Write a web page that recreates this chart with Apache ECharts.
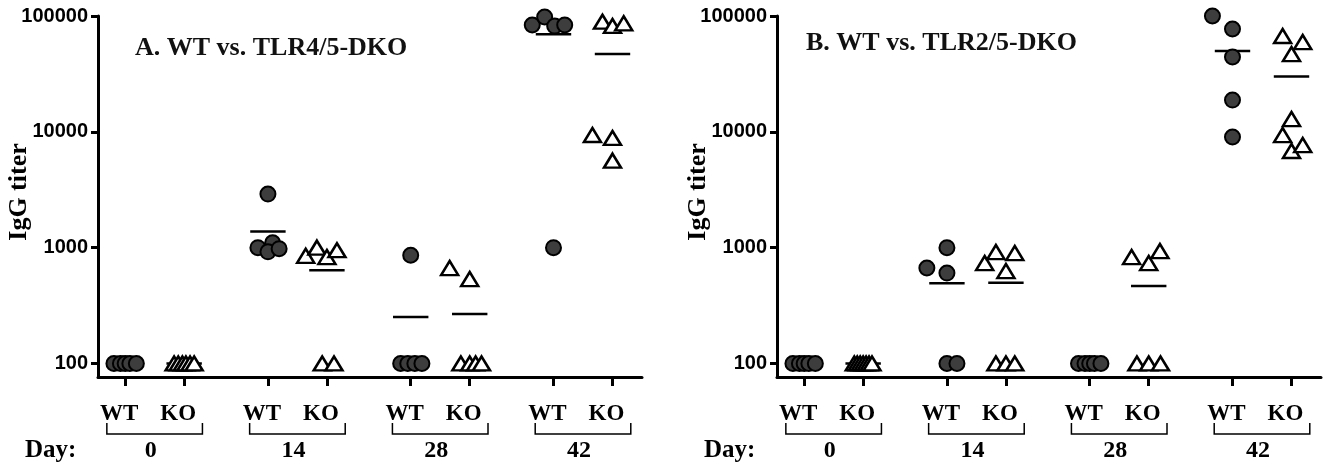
<!DOCTYPE html>
<html><head><meta charset="utf-8">
<script src="https://cdn.jsdelivr.net/npm/echarts@6/dist/echarts.min.js"></script>
<style>html,body{margin:0;padding:0;background:#fff}#c{width:1329px;height:468px}</style>
</head><body><div id="c"></div>
<script>
// ---------- data ----------
const days = ['0', '14', '28', '42'];
const groups = ['WT', 'KO'];
const yTicks = [100, 1000, 10000, 100000];
const panelTitles = ['A. WT vs. TLR4/5-DKO', 'B. WT vs. TLR2/5-DKO'];
const yName = 'IgG titer';
const dayName = 'Day:';

// Panel A (IgG titer per animal)
const aWT0  = [100, 100, 100, 100, 100];
const aKO0  = [100, 100, 100, 100, 100, 100];
const aWT14 = [2900, 1000, 1100, 920, 980];
const aKO14 = [850, 1000, 830, 950, 100, 100];
const aWT28 = [860, 100, 100, 100, 100];
const aKO28 = [667, 536, 100, 100, 100, 100];
const aWT42 = [83600, 98000, 81900, 83600, 1000];
const aKO42 = [89300, 82000, 86500, 9390, 8850, 5640];
// Panel B
const bWT0  = [100, 100, 100, 100, 100];
const bKO0  = [100, 100, 100, 100, 100, 100, 100];
const bWT14 = [667, 1000, 603, 100, 100];
const bKO14 = [736, 917, 628, 898, 100, 100, 100];
const bWT28 = [100, 100, 100, 100, 100];
const bKO28 = [830, 736, 935, 100, 100, 100];
const bWT42 = [100000, 77200, 44300, 18800, 9020];
const bKO42 = [67200, 59600, 46900, 12900, 9380, 6830, 7690];

// ---------- layout (horizontal scatter offsets, in slot units) ----------
const jA = {
  WT0: [-0.19, -0.08, 0, 0.08, 0.19], KO0: [-0.17, -0.1, -0.03, 0.03, 0.1, 0.17],
  WT14: [0, -0.17, 0.08, 0, 0.19], KO14: [-0.36, -0.17, 0, 0.17, -0.08, 0.12],
  WT28: [0, -0.17, -0.05, 0.07, 0.19], KO28: [-0.34, 0, -0.15, 0, 0.1, 0.2],
  WT42: [-0.36, -0.15, 0.02, 0.19, 0], KO42: [-0.17, 0, 0.19, -0.34, 0, 0]
};
const jB = {
  WT0: [-0.19, -0.08, 0, 0.08, 0.19], KO0: [-0.15, -0.1, -0.05, 0, 0.05, 0.1, 0.15],
  WT14: [-0.34, 0, 0, 0, 0.17], KO14: [-0.36, -0.17, 0, 0.15, -0.17, 0, 0.15],
  WT28: [-0.19, -0.08, 0, 0.08, 0.19], KO28: [-0.29, 0, 0.19, -0.2, 0, 0.2],
  WT42: [-0.34, 0, 0, 0, 0], KO42: [-0.15, 0.19, 0, 0, -0.15, 0, 0.19]
};
const panels = [
  {WT: [aWT0, aWT14, aWT28, aWT42], KO: [aKO0, aKO14, aKO28, aKO42], j: jA},
  {WT: [bWT0, bWT14, bWT28, bWT42], KO: [bKO0, bKO14, bKO28, bKO42], j: jB}
];

const STEP = 2.42, X_MIN = -0.46, X_MAX = 8.76, Y_MIN = 76.43, Y_MAX = 100000;
const pos = (g, s) => g * STEP + s;
const tickPos = []; days.forEach((d, g) => { tickPos.push(pos(g, 0), pos(g, 1)); });
const dayPos = days.map((d, g) => pos(g, 0.5));
const gridLeft = [98, 777];
const serif = '"Liberation Serif", "Times New Roman", serif';
const sans = '"Liberation Sans", Arial, sans-serif';
const idx = (arr, v) => arr.findIndex(t => Math.abs(t - v) < 1e-6);
const mean = a => a.reduce((s, v) => s + v, 0) / a.length;

const grid = [], xAxis = [], yAxis = [], series = [], title = [], graphic = [];
panels.forEach((P, p) => {
  grid.push({left: gridLeft[p], top: 16, width: 544, height: 361});
  xAxis.push({
    gridIndex: p, type: 'value', position: 'bottom', min: X_MIN, max: X_MAX,
    axisLine: {show: true, onZero: false, lineStyle: {color: '#000', width: 3}},
    axisTick: {show: true, customValues: tickPos, length: 9, lineStyle: {color: '#000', width: 3}},
    axisLabel: {customValues: tickPos, formatter: v => groups[idx(tickPos, v) % 2], margin: 26,
      fontFamily: serif, fontWeight: 'bold', fontSize: 23, color: '#000', padding: [0, 12, 0, 0]},
    splitLine: {show: false}
  });
  xAxis.push({
    gridIndex: p, type: 'value', position: 'bottom', min: X_MIN, max: X_MAX,
    axisLine: {show: false, onZero: false}, axisTick: {show: false}, splitLine: {show: false},
    axisLabel: {customValues: dayPos, formatter: v => days[idx(dayPos, v)], margin: 62,
      fontFamily: serif, fontWeight: 'bold', fontSize: 24, color: '#000', padding: [0, 8, 0, 0]}
  });
  yAxis.push({
    gridIndex: p, type: 'log', logBase: 10, min: Y_MIN, max: Y_MAX,
    axisLine: {show: true, onZero: false, lineStyle: {color: '#000', width: 3}},
    axisTick: {show: true, customValues: yTicks, length: 7, lineStyle: {color: '#000', width: 3}},
    axisLabel: {customValues: yTicks, formatter: v => String(Math.round(v)), margin: 10,
      fontFamily: sans, fontWeight: 'bold', fontSize: 20, color: '#000'},
    splitLine: {show: false}, minorTick: {show: false}, minorSplitLine: {show: false}
  });
  // mean lines
  const means = [];
  days.forEach((d, g) => {
    means.push([pos(g, 0), mean(P.WT[g])]);
    means.push([pos(g, 1), mean(P.KO[g])]);
  });
  series.push({
    type: 'custom', xAxisIndex: p * 2, yAxisIndex: p, z: 1, clip: false, silent: true,
    data: means,
    renderItem(params, api) {
      const x = api.value(0), m = api.value(1);
      const p1 = api.coord([x - 0.3, m]), p2 = api.coord([x + 0.3, m]);
      return {type: 'line', shape: {x1: p1[0], y1: p1[1], x2: p2[0], y2: p2[1]},
        style: {stroke: '#000', lineWidth: 2.5}};
    }
  });
  // brackets under group labels
  series.push({
    type: 'custom', xAxisIndex: p * 2, yAxisIndex: p, z: 1, clip: false, silent: true,
    data: dayPos.map(c => [c, Y_MIN]),
    renderItem(params, api) {
      const c = api.value(0);
      const b = params.coordSys.y + params.coordSys.height;
      const l = api.coord([c - 0.81, Y_MIN])[0], r = api.coord([c + 0.81, Y_MIN])[0];
      return {type: 'polyline', shape: {points: [[l, b + 46], [l, b + 57], [r, b + 57], [r, b + 46]]},
        style: {stroke: '#000', lineWidth: 1.5, fill: null}};
    }
  });
  // points
  days.forEach((d, g) => {
    ['WT', 'KO'].forEach((k, s) => {
      const vals = P[k][g], jit = P.j[k + d];
      series.push({
        type: 'scatter', xAxisIndex: p * 2, yAxisIndex: p, z: 3, clip: false, silent: true,
        symbol: k === 'WT' ? 'circle' : 'triangle',
        symbolSize: k === 'WT' ? 15 : [17, 14],
        itemStyle: k === 'WT'
          ? {color: '#3d3d3d', borderColor: '#000', borderWidth: 2, opacity: 1}
          : {color: '#fff', borderColor: '#000', borderWidth: 2.5, opacity: 1},
        data: vals.map((v, i) => [pos(g, s) + jit[i], v])
      });
    });
  });
  title.push({text: panelTitles[p], left: gridLeft[p] + (p ? 29 : 37), top: p ? 30 : 35, padding: 0,
    textStyle: {fontFamily: serif, fontWeight: 'bold', fontSize: 26, color: '#111'}});
  graphic.push({type: 'text', x: gridLeft[p] - 79, y: 192, rotation: Math.PI / 2,
    style: {text: yName, font: 'bold 26px ' + serif, fill: '#000', align: 'center', verticalAlign: 'middle'}});
  graphic.push({type: 'text', x: gridLeft[p] - 73, y: 451,
    style: {text: dayName, font: 'bold 25px ' + serif, fill: '#000', align: 'left', verticalAlign: 'middle'}});
});

const chart = echarts.init(document.getElementById('c'), null, {renderer: 'canvas'});
chart.setOption({animation: false, backgroundColor: '#fff', title, grid, xAxis, yAxis, series, graphic});
</script></body></html>
